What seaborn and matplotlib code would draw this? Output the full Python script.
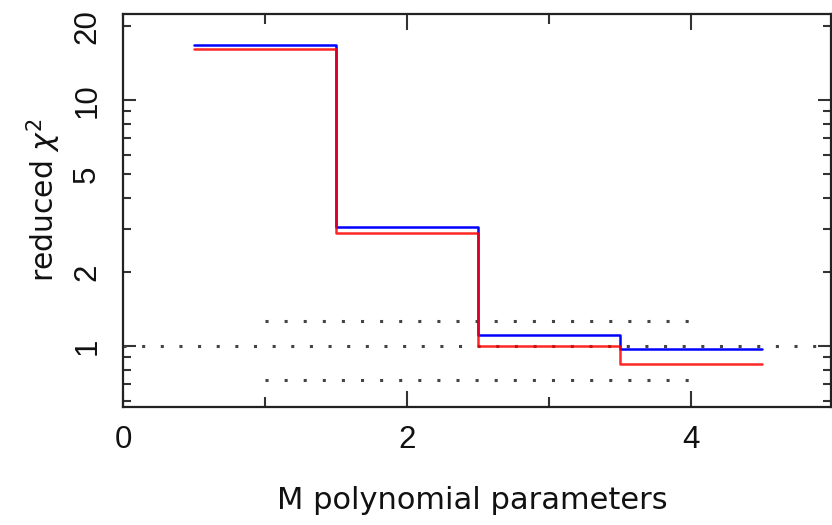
import numpy as np
import pandas as pd
import seaborn as sns
import matplotlib
matplotlib.use("Agg")
import matplotlib.pyplot as plt
from matplotlib.ticker import FixedLocator, FuncFormatter

# Number of polynomial parameters and reduced chi-square per fit
m_params = [1, 2, 3, 4]
chi2_blue = [16.7, 3.04, 1.11, 0.97]
chi2_red = [16.2, 2.87, 1.00, 0.845]

# Reference levels: expected value and its spread
ref_level = 1.0
ref_band = [1.265, 0.73]
band_x = [1.0, 4.0]

sns.set_style("ticks")
plt.rcParams["font.family"] = ["Liberation Sans", "DejaVu Sans"]
plt.rcParams["mathtext.fontset"] = "dejavusans"

fig = plt.figure(figsize=(8.32, 5.25), dpi=100)
ax = fig.add_axes([123 / 832, 1 - 407 / 525, 708 / 832, 393 / 525])


def step_frame(values):
    edges = [m - 0.5 for m in m_params] + [m_params[-1] + 0.5]
    return pd.DataFrame({"M": edges, "chi2": list(values) + [values[-1]]})


ax.plot([0, 5], [ref_level, ref_level], color="#444444", lw=2.2, ls=(0, (1, 5.1)), zorder=1)
for lvl in ref_band:
    ax.plot(band_x, [lvl, lvl], color="#444444", lw=2.2, ls=(0, (1, 5.25)), zorder=1)

sns.lineplot(data=step_frame(chi2_blue), x="M", y="chi2", ax=ax, color="#0000ff",
             lw=1.8, drawstyle="steps-post", estimator=None, sort=False, zorder=3)
sns.lineplot(data=step_frame(chi2_red), x="M", y="chi2", ax=ax, color="#ff0000",
             lw=1.8, drawstyle="steps-post", estimator=None, sort=False, zorder=4, alpha=0.85)

ax.set_yscale("log")
ax.set_xlim(0, 4.986)
ax.set_ylim(0.565, 22.4)

ax.xaxis.set_major_locator(FixedLocator([0, 2, 4]))
ax.xaxis.set_minor_locator(FixedLocator([1, 3, 5]))
ax.yaxis.set_major_locator(FixedLocator([1, 10]))
ax.yaxis.set_minor_locator(FixedLocator([0.6, 0.7, 0.8, 0.9, 2, 3, 4, 5, 6, 7, 8, 9, 20]))
ax.yaxis.set_major_formatter(FuncFormatter(lambda v, p: f"{v:g}"))
ax.yaxis.set_minor_formatter(FuncFormatter(lambda v, p: f"{v:g}" if v in (2, 5, 20) else ""))
ax.xaxis.set_major_formatter(FuncFormatter(lambda v, p: f"{v:g}"))

for s in ax.spines.values():
    s.set_linewidth(1.6)
    s.set_color("#222222")

ax.tick_params(axis="both", which="both", direction="in", top=True, right=True,
               color="#333333", width=1.5, labelsize=22.5, labelcolor="#111111",
               labelfontfamily="Liberation Sans")
ax.tick_params(axis="x", which="major", length=11.5, pad=13)
ax.tick_params(axis="x", which="minor", length=7)
ax.tick_params(axis="y", which="major", length=9.5, pad=15)
ax.tick_params(axis="y", which="minor", length=5.5, pad=15)
for lab in ax.get_yticklabels(which="both"):
    lab.set_rotation(90)
    lab.set_va("center")

ax.set_xlabel("M polynomial parameters", fontsize=22, color="#111111",
              family=["DejaVu Sans"])
ax.set_ylabel(r"reduced $\chi^2$", fontsize=21.5, color="#111111",
              family=["DejaVu Sans"])
ax.xaxis.set_label_coords(0.494, -0.2)
ax.yaxis.set_label_coords(-0.085, 0.527)

fig.savefig("out.png", dpi=100)
